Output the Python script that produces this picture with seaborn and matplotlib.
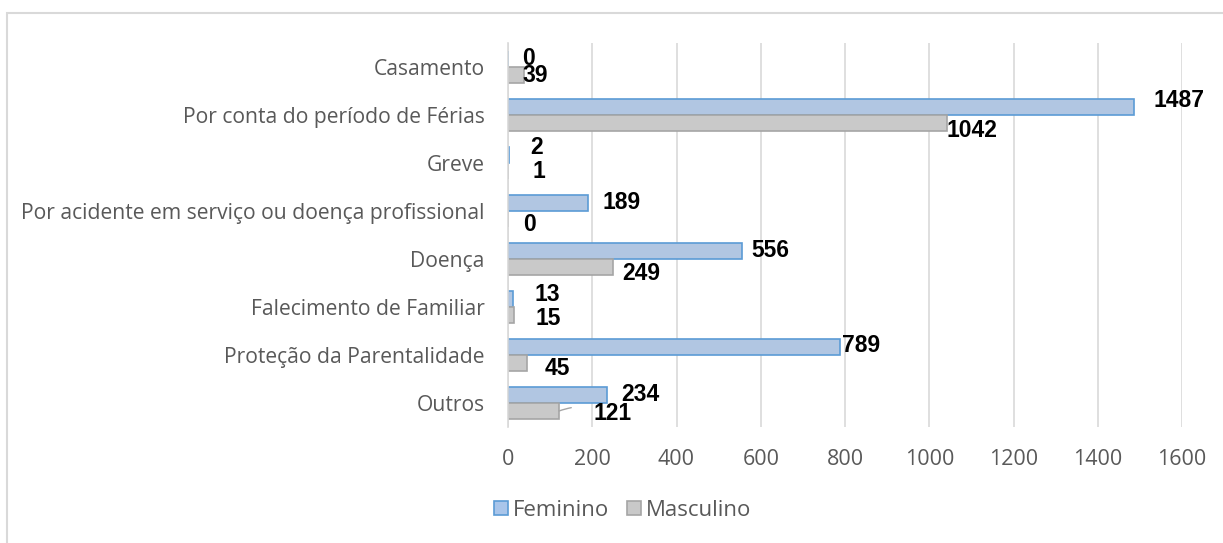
import pandas as pd
import seaborn as sns
import matplotlib.pyplot as plt
from matplotlib.patches import Rectangle

# Data
categories = ['Casamento', 'Por conta do período de Férias', 'Greve',
              'Por acidente em serviço ou doença profissional', 'Doença',
              'Falecimento de Familiar', 'Proteção da Parentalidade', 'Outros']
feminino = [0, 1487, 2, 189, 556, 13, 789, 234]
masculino = [39, 1042, 1, 0, 249, 15, 45, 121]
series = ['Feminino', 'Masculino']
x_ticks = [0, 200, 400, 600, 800, 1000, 1200, 1400, 1600]

df = pd.DataFrame({'Motivo': categories * 2,
                   'Sexo': ['Feminino'] * len(categories) + ['Masculino'] * len(categories),
                   'Valor': feminino + masculino})

sns.set_style('white')
plt.rcParams['font.family'] = ['Open Sans', 'DejaVu Sans']

fig = plt.figure(figsize=(12.23, 5.43), dpi=100)
ax = fig.add_axes([508 / 1223, 1 - 427 / 543, (1182 - 508) / 1223, (427 - 43) / 543])

fill = {'Feminino': '#a9c5ea', 'Masculino': '#c9c9c9'}
edge = {'Feminino': '#5b9bd5', 'Masculino': '#a5a5a5'}

sns.barplot(data=df, y='Motivo', x='Valor', hue='Sexo', order=categories,
            hue_order=series, palette=fill, orient='h', width=0.667,
            dodge=True, ax=ax, legend=False)

for cont, s in zip(ax.containers, series):
    for bar in cont:
        bar.set_edgecolor(edge[s])
        bar.set_linewidth(1.2)

# value labels (pixel offsets from bar end)
off_f = [(14, 0), (19, 6), (21, 7), (15, 0), (9, 0), (21, 4), (2, 1), (15, 0)]
off_m = [(-2, 0), (0, -7), (24, 0), (15, -5), (9, -6), (21, -3), (18, -5), (35, -2)]
for cont, offs in zip(ax.containers, [off_f, off_m]):
    for bar, (dx, dy) in zip(cont, offs):
        w = bar.get_width()
        yc = bar.get_y() + bar.get_height() / 2
        kw = {}
        if cont is ax.containers[1] and bar is cont[-1]:
            kw['arrowprops'] = dict(arrowstyle='-', color='#a5a5a5', lw=1,
                                    shrinkA=14, shrinkB=0,
                                    connectionstyle='arc3,rad=0.2')
        ax.annotate(f'{int(w)}', xy=(w, yc), xytext=(dx, dy),
                    textcoords='offset pixels', ha='left', va='center',
                    fontsize=16.5, fontweight='bold', color='black',
                    family='Liberation Sans', **kw)

ax.set_xlim(0, 1600)
ax.set_xticks(x_ticks)
ax.set_xlabel('')
ax.set_ylabel('')
ax.xaxis.grid(True, color='#d9d9d9', lw=1.2)
ax.set_axisbelow(True)
for sp in ['top', 'right', 'bottom']:
    ax.spines[sp].set_visible(False)
ax.spines['left'].set_color('#d9d9d9')
ax.spines['left'].set_linewidth(1.2)
ax.tick_params(axis='x', length=0, pad=16, labelsize=15.5, labelcolor='#595959')
ax.tick_params(axis='y', length=0, pad=17, labelsize=15.2, labelcolor='#595959')

handles = [Rectangle((0, 0), 1, 1, facecolor=fill[s], edgecolor=edge[s], lw=1.2) for s in series]
fig.legend(handles, series, loc='center', bbox_to_anchor=(623 / 1223, 1 - 510 / 543),
           ncol=2, frameon=False, fontsize=16, labelcolor='#595959',
           handlelength=0.6, handleheight=0.6, handletextpad=0.25, columnspacing=0.8)

# chart area border
fig.patches.append(Rectangle((7 / 1223, -0.1), 2, 1.1 - 13 / 543, transform=fig.transFigure,
                             fill=False, edgecolor='#d9d9d9', lw=1.5))

fig.savefig('out.png', dpi=100)
